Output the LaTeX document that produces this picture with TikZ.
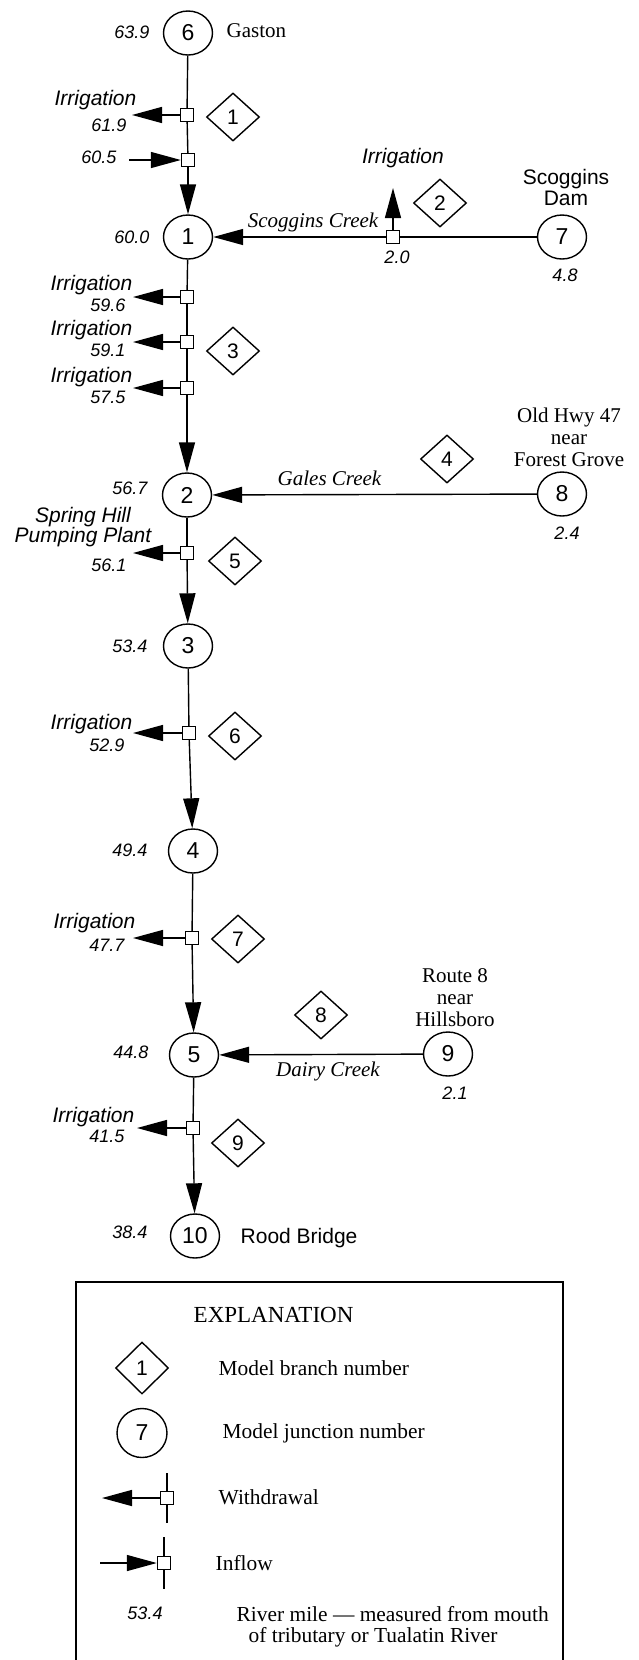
\documentclass[tikz,border=0pt]{standalone}
\usepackage{fontspec}
\setmainfont{Liberation Serif}
\setsansfont{Liberation Sans}
\usetikzlibrary{shapes.geometric,arrows.meta}

\begin{document}
\begin{tikzpicture}[
    x=0.5pt, y=-0.5pt, line width=0.7pt,
    junction/.style={ellipse, draw, minimum width=24.5pt, minimum height=22pt, inner sep=0pt, font=\sffamily\fontsize{11.5}{12}\selectfont},
    branch/.style={diamond, draw, minimum width=26.5pt, minimum height=24pt, inner sep=0pt, font=\sffamily\fontsize{10.5}{11}\selectfont},
    gate/.style={rectangle, draw, fill=white, minimum size=6.5pt, inner sep=0pt},
    mile/.style={inner sep=0pt, font=\sffamily\itshape\fontsize{9}{10}\selectfont},
    usage/.style={inner sep=0pt, align=center, font=\sffamily\itshape\fontsize{10.5}{10}\selectfont},
    site/.style={inner sep=0pt, align=center, font=\rmfamily\fontsize{10.5}{11}\selectfont},
    creek/.style={inner sep=0pt, font=\rmfamily\itshape\fontsize{10.5}{11}\selectfont},
    legtext/.style={inner sep=0pt, anchor=west, align=left, font=\rmfamily\fontsize{10.7}{10.5}\selectfont},
    arrow/.style={-{Triangle[length=15pt,width=8pt]}}
]
\useasboundingbox (0,0) rectangle (638,1660);

% Gaston to junction 1
\node[junction] (j6) at (188,33) {6};
\node[mile, anchor=east] (m6) at (150,32) {63.9};
\node[site, anchor=west] (gaston) at (226,31) {Gaston};
\node[gate] (w1) at (187,115) {};
\coordinate (w1end) at (132,115);
\node[usage, anchor=east] (u1) at (137,100) {Irrigation};
\node[mile, anchor=east] (mw1) at (127,125) {61.9};
\node[gate] (i1) at (188,160) {};
\coordinate (i1start) at (129,160);
\node[mile, anchor=east] (mi1) at (117,157) {60.5};
\node[branch] (b1) at (233,117) {1};
\node[junction] (j1) at (188,237) {1};
\node[mile, anchor=east] (m1) at (150,237) {60.0};

% Scoggins Creek
\node[junction] (j7) at (562,237) {7};
\node[site, font=\sffamily\fontsize{10.5}{10.5}\selectfont] (scoggins) at (566,187) {Scoggins\\Dam};
\node[mile] (m7) at (565,275) {4.8};
\node[gate] (w2) at (393,237) {};
\coordinate (w2end) at (393,188);
\node[usage] (u2) at (403,158) {Irrigation};
\node[mile] (mw2) at (397,257) {2.0};
\node[branch] (b2) at (440,203) {2};
\node[creek] (scogcreek) at (313,222) {Scoggins Creek};

% Junction 1 to junction 2
\node[gate] (w3) at (187,297) {};
\node[gate] (w4) at (187,342) {};
\node[gate] (w5) at (187,388) {};
\coordinate (w3end) at (133,297);
\coordinate (w4end) at (133,342);
\coordinate (w5end) at (133,388);
\node[usage, anchor=east] (u3) at (133,285) {Irrigation};
\node[usage, anchor=east] (u4) at (133,330) {Irrigation};
\node[usage, anchor=east] (u5) at (133,377) {Irrigation};
\node[mile, anchor=east] (mw3) at (126,305) {59.6};
\node[mile, anchor=east] (mw4) at (126,350) {59.1};
\node[mile, anchor=east] (mw5) at (126,397) {57.5};
\node[branch] (b3) at (233,351) {3};
\node[junction] (j2) at (187,495) {2};
\node[mile, anchor=east] (m2) at (148,488) {56.7};

% Gales Creek
\node[junction] (j8) at (562,494) {8};
\node[site] (oldhwy) at (569,437) {Old Hwy 47\\near\\Forest Grove};
\node[mile] (m8) at (567,533) {2.4};
\node[branch] (b4) at (447,459) {4};
\node[creek, anchor=east] (galescreek) at (382,478) {Gales Creek};

% Junction 2 to junction 3
\node[gate] (w6) at (187,553) {};
\coordinate (w6end) at (133,553);
\node[usage] (u6) at (83,527) {Spring Hill\\Pumping Plant};
\node[mile, anchor=east] (mw6) at (127,565) {56.1};
\node[branch] (b5) at (235,561) {5};
\node[junction] (j3) at (188,646) {3};
\node[mile, anchor=east] (m3) at (148,646) {53.4};

% Junction 3 to junction 4
\node[gate] (w7) at (189,733) {};
\coordinate (w7end) at (133,733);
\node[usage, anchor=east] (u7) at (133,724) {Irrigation};
\node[mile, anchor=east] (mw7) at (125,745) {52.9};
\node[branch] (b6) at (235,736) {6};
\node[junction] (j4) at (193,851) {4};
\node[mile, anchor=east] (m4) at (148,850) {49.4};

% Junction 4 to junction 5
\node[gate] (w8) at (192,938) {};
\coordinate (w8end) at (133,938);
\node[usage, anchor=east] (u8) at (136,923) {Irrigation};
\node[mile, anchor=east] (mw8) at (125,945) {47.7};
\node[branch] (b7) at (238,939) {7};
\node[junction] (j5) at (194,1055) {5};
\node[mile, anchor=east] (m5) at (149,1052) {44.8};

% Dairy Creek
\node[junction] (j9) at (448,1054) {9};
\node[site] (route8) at (455,998) {Route 8\\near\\Hillsboro};
\node[mile] (m9) at (455,1093) {2.1};
\node[branch] (b8) at (321,1015) {8};
\node[creek] (dairycreek) at (328,1071) {Dairy Creek};

% Junction 5 to Rood Bridge
\node[gate] (w9) at (193,1128) {};
\coordinate (w9end) at (137,1128);
\node[usage, anchor=east] (u9) at (135,1117) {Irrigation};
\node[mile, anchor=east] (mw9) at (125,1136) {41.5};
\node[branch] (b9) at (238,1143) {9};
\node[junction] (j10) at (195,1236) {10};
\node[mile, anchor=east] (m10) at (148,1232) {38.4};
\node[site, font=\sffamily\fontsize{10.5}{11}\selectfont, anchor=west] (rood) at (240,1238) {Rood Bridge};

% Explanation
\draw (76,1660) |- (563,1282) -- (563,1660);
\node[legtext, font=\rmfamily\fontsize{11.5}{12}\selectfont] (explain) at (193,1315) {EXPLANATION};
\node[branch, minimum width=26.5pt, minimum height=26pt] (lb) at (142,1368) {1};
\node[legtext] (lbtext) at (218,1368) {Model branch number};
\node[junction, minimum width=25pt, minimum height=24.5pt] (lj) at (142,1433) {7};
\node[legtext] (ljtext) at (222,1433) {Model junction number};
\node[gate] (lw) at (167,1498) {};
\coordinate (lwtop) at (167,1473);
\coordinate (lwbot) at (167,1523);
\coordinate (lwend) at (102,1498);
\node[legtext] (lwtext) at (218,1497) {Withdrawal};
\node[gate] (li) at (164,1563) {};
\coordinate (litop) at (164,1537);
\coordinate (libot) at (164,1589);
\coordinate (listart) at (100,1563);
\node[legtext] (litext) at (215,1563) {Inflow};
\node[mile] (lm) at (145,1613) {53.4};
\node[legtext] (lmtext) at (236,1627) {River mile — measured from mouth\\\hspace*{6pt}of tributary or Tualatin River};

% Lines
\draw (j6) -- (w1);
\draw (w1) -- (i1);
\draw[arrow] (i1) -- (j1);
\draw[arrow] (w1) -- (w1end);
\draw[arrow] (i1start) -- (i1);
\draw (j7) -- (w2);
\draw[arrow] (w2) -- (j1);
\draw[arrow] (w2) -- (w2end);
\draw (j1) -- (w3);
\draw (w3) -- (w4);
\draw (w4) -- (w5);
\draw[arrow] (w5) -- (j2);
\draw[arrow] (w3) -- (w3end);
\draw[arrow] (w4) -- (w4end);
\draw[arrow] (w5) -- (w5end);
\draw[arrow] (j8) -- (j2);
\draw (j2) -- (w6);
\draw[arrow] (w6) -- (j3);
\draw[arrow] (w6) -- (w6end);
\draw (j3) -- (w7);
\draw[arrow] (w7) -- (j4);
\draw[arrow] (w7) -- (w7end);
\draw (j4) -- (w8);
\draw[arrow] (w8) -- (j5);
\draw[arrow] (w8) -- (w8end);
\draw[arrow] (j9) -- (j5);
\draw (j5) -- (w9);
\draw[arrow] (w9) -- (j10);
\draw[arrow] (w9) -- (w9end);
\draw (lwtop) -- (lw);
\draw (lw) -- (lwbot);
\draw[arrow] (lw) -- (lwend);
\draw (litop) -- (li);
\draw (li) -- (libot);
\draw[arrow] (listart) -- (li);

\end{tikzpicture}
\end{document}
